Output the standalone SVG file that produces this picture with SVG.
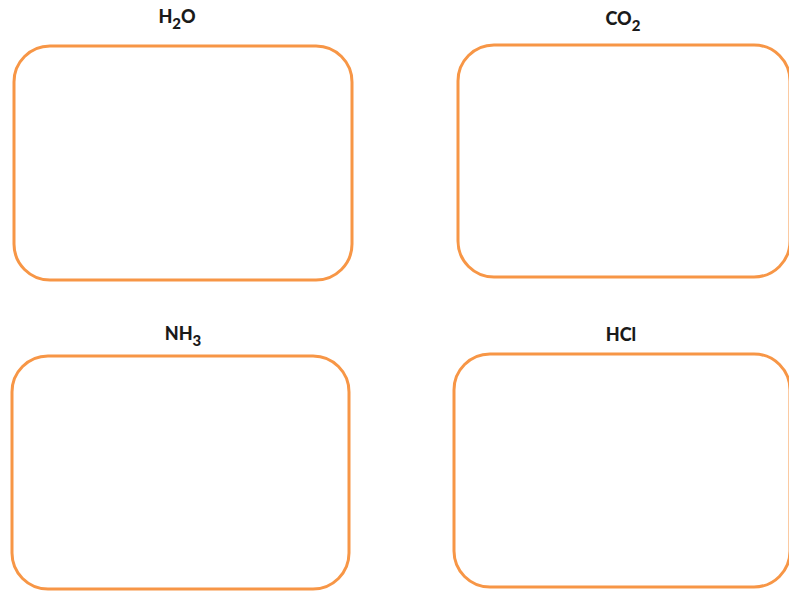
<svg xmlns="http://www.w3.org/2000/svg" width="789" height="591" viewBox="0 0 789 591">
<style>
.box{fill:#fff;stroke:#F79646;stroke-width:3}
.lbl{font-family:Lato,"Open Sans","Liberation Sans",sans-serif;font-weight:900;font-size:18px;fill:#1a1a1a;text-anchor:middle}
.sub{font-size:15px}
</style>
<rect width="789" height="591" fill="#fff"/>
<g id="h2o">
<rect class="box" x="14" y="46" width="338" height="234" rx="36"/>
<text class="lbl" x="177" y="23">H<tspan class="sub" dy="6">2</tspan><tspan dy="-6">O</tspan></text>
</g>
<g id="co2">
<rect class="box" x="458" y="45" width="332" height="232" rx="36"/>
<text class="lbl" x="623" y="25">CO<tspan class="sub" dy="6">2</tspan></text>
</g>
<g id="nh3">
<rect class="box" x="12" y="356" width="337" height="233" rx="36"/>
<text class="lbl" x="183" y="340">NH<tspan class="sub" dy="6">3</tspan></text>
</g>
<g id="hcl">
<rect class="box" x="454" y="354" width="336" height="233" rx="36"/>
<text class="lbl" x="621" y="341">HCl</text>
</g>
<g id="connectors"/>
</svg>
